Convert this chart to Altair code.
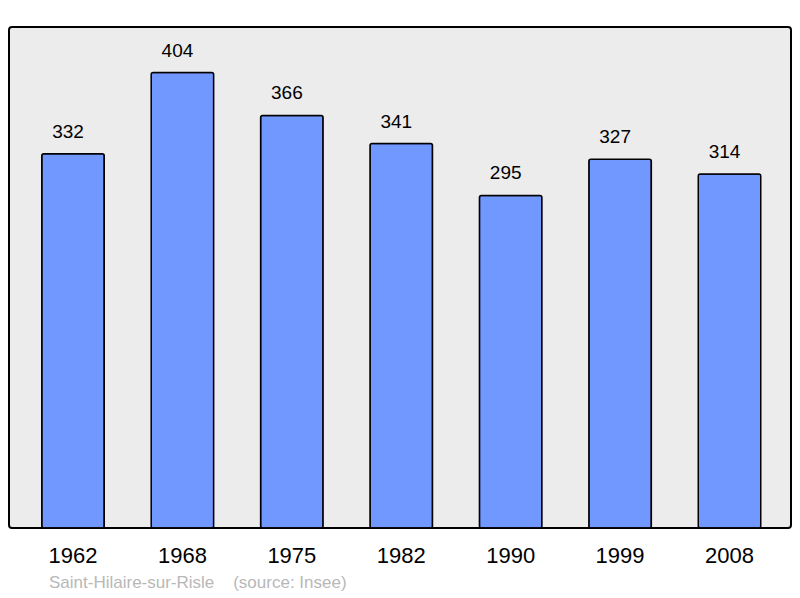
import altair as alt
import pandas as pd

years = ["1962", "1968", "1975", "1982", "1990", "1999", "2008"]
population = [332, 404, 366, 341, 295, 327, 314]
source_label = ["Saint-Hilaire-sur-Risle\u00a0\u00a0\u00a0\u00a0(source: Insee)"]

df = pd.DataFrame({"year": years, "pop": population})

x = alt.X("year:N", sort=years, title=None,
          scale=alt.Scale(paddingInner=0.429, paddingOuter=0.288, align=0.52),
          axis=alt.Axis(labelAngle=0, labelFontSize=22, labelFont="Liberation Sans",
                        labelColor="black", domain=False, ticks=False, labelPadding=17))
y = alt.Y("pop:Q", title=None, scale=alt.Scale(domain=[0, 444.4], nice=False, zero=True),
          axis=None)

bars = alt.Chart(df).mark_bar(color="#7098ff", stroke="black", strokeWidth=1.5,
                              cornerRadius=2).encode(x=x, y=y)

labels = alt.Chart(df).mark_text(font="Liberation Sans", fontSize=19, color="black",
                                 baseline="alphabetic", dy=-16, dx=-5).encode(
    x=x, y=y, text="pop:Q")

src = alt.Chart(pd.DataFrame({"t": source_label})).mark_text(
    font="Liberation Sans", fontSize=17, color="#b8b8b8", align="left",
    baseline="middle").encode(x=alt.value(40), y=alt.value(556), text="t:N")

chart = alt.layer(bars, labels, src).properties(
    width=782, height=501,
    autosize=alt.AutoSizeParams(type="none"),
    padding={"left": 1, "top": 19, "right": 1, "bottom": 70},
    background="white",
).configure_view(fill="#ececec", stroke="black", strokeWidth=2, cornerRadius=3)

chart.save("out.html", embed_options={"renderer": "svg", "actions": False})
